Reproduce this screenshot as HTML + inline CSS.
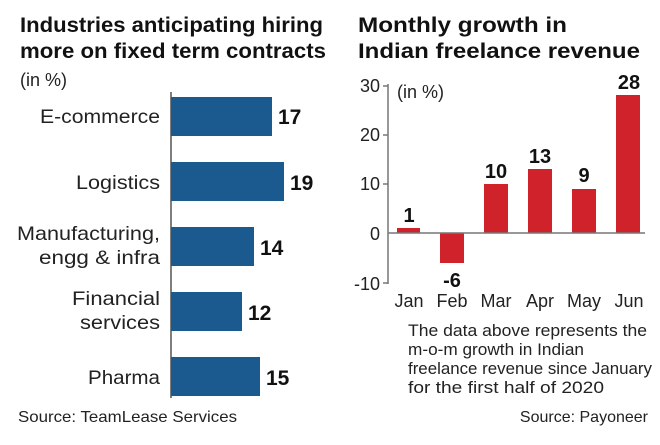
<!DOCTYPE html>
<html><head><style>
body{margin:0;background:#fff;}
svg text{font-family:"Liberation Sans",sans-serif;}
</style></head><body>
<svg width="660" height="440" xmlns="http://www.w3.org/2000/svg">
<g font-weight="bold" font-size="21" fill="#111">
<text x="20" y="32" textLength="303" lengthAdjust="spacingAndGlyphs">Industries anticipating hiring</text>
<text x="20" y="58" textLength="306" lengthAdjust="spacingAndGlyphs">more on fixed term contracts</text>
<text x="358" y="32" textLength="209" lengthAdjust="spacingAndGlyphs">Monthly growth in</text>
<text x="358" y="58" textLength="282" lengthAdjust="spacingAndGlyphs">Indian freelance revenue</text>
</g>
<text x="20" y="86" font-size="18" fill="#222">(in %)</text>
<line x1="171" y1="92" x2="171" y2="398" stroke="#555" stroke-width="1.5"/>
<g fill="#1a5a8e">
<rect x="171" y="97" width="101" height="39"/>
<rect x="171" y="162" width="113" height="39"/>
<rect x="171" y="227" width="83" height="39"/>
<rect x="171" y="292" width="71" height="39"/>
<rect x="171" y="357" width="89" height="39"/>
</g>
<g font-size="19.5" fill="#222" text-anchor="end">
<text x="160" y="123" textLength="120" lengthAdjust="spacingAndGlyphs">E-commerce</text>
<text x="160" y="189" textLength="84" lengthAdjust="spacingAndGlyphs">Logistics</text>
<text x="160" y="240" textLength="143" lengthAdjust="spacingAndGlyphs">Manufacturing,</text>
<text x="160" y="264" textLength="121" lengthAdjust="spacingAndGlyphs">engg &amp; infra</text>
<text x="160" y="305" textLength="88" lengthAdjust="spacingAndGlyphs">Financial</text>
<text x="160" y="329" textLength="80" lengthAdjust="spacingAndGlyphs">services</text>
<text x="160" y="384" textLength="72" lengthAdjust="spacingAndGlyphs">Pharma</text>
</g>
<g font-size="21" font-weight="bold" fill="#111">
<text x="278" y="124">17</text>
<text x="290" y="190">19</text>
<text x="260" y="255">14</text>
<text x="248" y="320">12</text>
<text x="266" y="385">15</text>
</g>
<text x="18" y="422" font-size="16" fill="#222" textLength="219" lengthAdjust="spacingAndGlyphs">Source: TeamLease Services</text>
<line x1="388" y1="84" x2="388" y2="284" stroke="#777" stroke-width="1.5"/>
<g stroke="#777" stroke-width="1.5">
<line x1="383" y1="86" x2="388" y2="86"/><line x1="383" y1="135" x2="388" y2="135"/>
<line x1="383" y1="184" x2="388" y2="184"/><line x1="383" y1="283" x2="388" y2="283"/>
</g>
<g font-size="18" fill="#222" text-anchor="end">
<text x="380" y="92">30</text><text x="380" y="141">20</text><text x="380" y="190">10</text>
<text x="380" y="240">0</text><text x="380" y="290">-10</text>
</g>
<text x="397" y="98" font-size="18" fill="#222">(in %)</text>
<g fill="#d0222b">
<rect x="397" y="228" width="23" height="5"/>
<rect x="440" y="233" width="24" height="30"/>
<rect x="484" y="184" width="24" height="49"/>
<rect x="528" y="169" width="24" height="64"/>
<rect x="572" y="189" width="24" height="44"/>
<rect x="616" y="95" width="24" height="138"/>
</g>
<line x1="388" y1="233" x2="645" y2="233" stroke="#777" stroke-width="1.5"/>
<g font-size="20" font-weight="bold" fill="#111" text-anchor="middle">
<text x="409" y="222">1</text><text x="452" y="287">-6</text><text x="496" y="178">10</text>
<text x="540" y="163">13</text><text x="584" y="182">9</text><text x="629" y="89">28</text>
</g>
<g font-size="18" fill="#222" text-anchor="middle">
<text x="409" y="307">Jan</text><text x="452" y="307">Feb</text><text x="496" y="307">Mar</text>
<text x="540" y="307">Apr</text><text x="584" y="307">May</text><text x="629" y="307">Jun</text>
</g>
<g font-size="16.5" fill="#222">
<text x="408" y="336" textLength="239" lengthAdjust="spacingAndGlyphs">The data above represents the</text>
<text x="408" y="355" textLength="176" lengthAdjust="spacingAndGlyphs">m-o-m growth in Indian</text>
<text x="408" y="374" textLength="244" lengthAdjust="spacingAndGlyphs">freelance revenue since January</text>
<text x="408" y="393" textLength="196" lengthAdjust="spacingAndGlyphs">for the first half of 2020</text>
</g>
<text x="648" y="422" font-size="16" fill="#222" text-anchor="end">Source: Payoneer</text>
</svg>
</body></html>
